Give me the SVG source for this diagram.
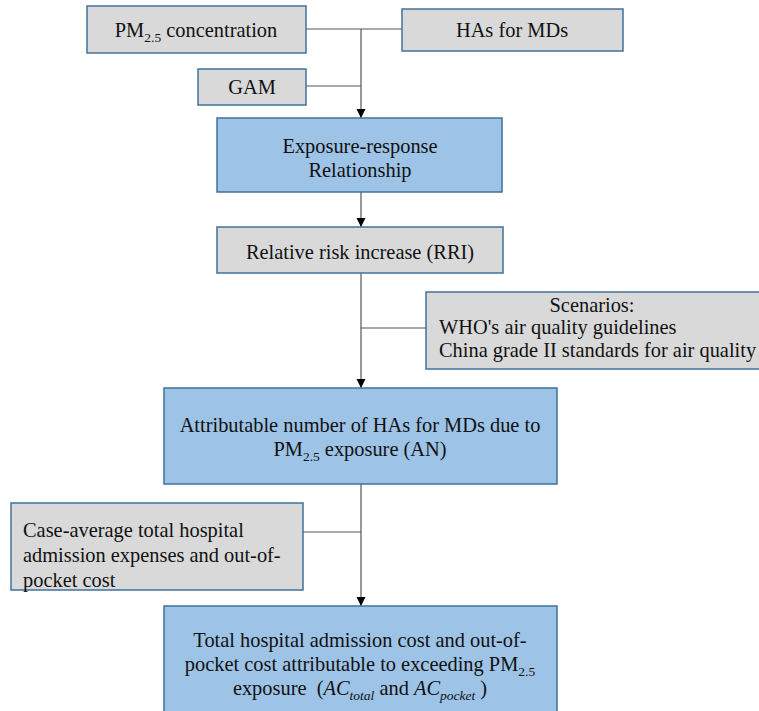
<svg xmlns="http://www.w3.org/2000/svg" width="759" height="711" viewBox="0 0 759 711" font-family="'Liberation Serif', 'Times New Roman', serif" font-size="20.4">
<defs>
<marker id="arr" markerUnits="userSpaceOnUse" markerWidth="10" markerHeight="10" refX="9" refY="5" orient="auto">
<path d="M0,0.5 L9,5 L0,9.5 z" fill="#000"/>
</marker>
<style>
.grey{fill:#d9d9d9;stroke:#41719c;stroke-width:1.5}
.blue{fill:#9dc3e6;stroke:#41719c;stroke-width:1.5}
text{fill:#111}
.c{text-anchor:middle}
.sub{font-size:13.5px}
.ln{stroke:#555;stroke-width:1.2;fill:none}
</style>
</defs>
<rect width="759" height="711" fill="#fff"/>
<g id="connectors">
<line class="ln" x1="306" y1="29" x2="402" y2="29"/>
<line class="ln" x1="306" y1="86" x2="361" y2="86"/>
<line class="ln" x1="361" y1="29" x2="361" y2="118" marker-end="url(#arr)"/>
<line class="ln" x1="361" y1="192" x2="361" y2="227" marker-end="url(#arr)"/>
<line class="ln" x1="361" y1="273" x2="361" y2="388" marker-end="url(#arr)"/>
<line class="ln" x1="361" y1="328" x2="426" y2="328"/>
<line class="ln" x1="361" y1="484" x2="361" y2="606" marker-end="url(#arr)"/>
<line class="ln" x1="303" y1="532" x2="361" y2="532"/>
</g>
<g id="pm25">
<rect class="grey" x="87" y="6" width="219" height="47"/>
<text class="c" x="196" y="37">PM<tspan class="sub" dy="5">2.5</tspan><tspan dy="-5"> concentration</tspan></text>
</g>
<g id="has">
<rect class="grey" x="402" y="9" width="221" height="42"/>
<text class="c" x="512" y="37">HAs for MDs</text>
</g>
<g id="gam">
<rect class="grey" x="198" y="69" width="108" height="36"/>
<text class="c" x="252" y="94">GAM</text>
</g>
<g id="er">
<rect class="blue" x="217" y="118" width="285" height="74"/>
<text class="c" x="360" y="153">Exposure-response</text>
<text class="c" x="360" y="177">Relationship</text>
</g>
<g id="rri">
<rect class="grey" x="217" y="227" width="286" height="46"/>
<text class="c" x="360" y="259">Relative risk increase (RRI)</text>
</g>
<g id="scenarios">
<rect class="grey" x="426" y="292" width="335" height="77"/>
<text class="c" x="592" y="312">Scenarios:</text>
<text x="439" y="334">WHO's air quality guidelines</text>
<text x="439" y="357">China grade II standards for air quality</text>
</g>
<g id="an">
<rect class="blue" x="164" y="388" width="393" height="96"/>
<text class="c" x="360" y="432">Attributable number of HAs for MDs due to</text>
<text class="c" x="360" y="456">PM<tspan class="sub" dy="5">2.5</tspan><tspan dy="-5"> exposure (AN)</tspan></text>
</g>
<g id="case">
<rect class="grey" x="11" y="503" width="292" height="87"/>
<text x="23" y="537">Case-average total hospital</text>
<text x="23" y="562">admission expenses and out-of-</text>
<text x="23" y="587">pocket cost</text>
</g>
<g id="total">
<rect class="blue" x="164" y="606" width="393" height="108"/>
<text class="c" x="360" y="647">Total hospital admission cost and out-of-</text>
<text class="c" x="360" y="671">pocket cost attributable to exceeding PM<tspan class="sub" dy="5">2.5</tspan></text>
<text class="c" x="360" y="695" xml:space="preserve">exposure  (<tspan font-style="italic">AC</tspan><tspan class="sub" font-style="italic" dy="5">total</tspan><tspan dy="-5"> and </tspan><tspan font-style="italic">AC</tspan><tspan class="sub" font-style="italic" dy="5">pocket</tspan><tspan dy="-5"> )</tspan></text>
</g>
</svg>
